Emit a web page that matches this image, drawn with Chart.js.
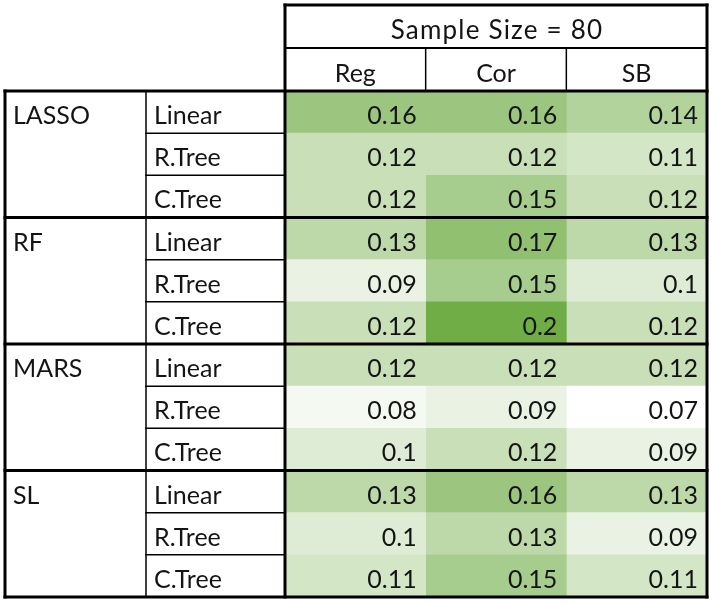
<!DOCTYPE html>
<html><head><meta charset="utf-8">
<script src="https://cdn.jsdelivr.net/npm/chart.js@4"></script>
<style>html,body{margin:0;padding:0;background:#fff}#wrap{width:713px;height:604px;position:relative}</style>
</head><body><div id="wrap"><canvas id="c"></canvas></div>
<script>
const title = 'Sample Size = 80';
const methods = ['LASSO', 'RF', 'MARS', 'SL'];
const models = ['Linear', 'R.Tree', 'C.Tree'];
const columns = ['Reg', 'Cor', 'SB'];
const reg = [0.16, 0.12, 0.12, 0.13, 0.09, 0.12, 0.12, 0.08, 0.1, 0.13, 0.1, 0.11];
const cor = [0.16, 0.12, 0.15, 0.17, 0.15, 0.2, 0.12, 0.09, 0.12, 0.16, 0.13, 0.15];
const sb  = [0.14, 0.11, 0.12, 0.13, 0.1, 0.12, 0.12, 0.07, 0.09, 0.13, 0.09, 0.11];

const series = [reg, cor, sb];
const rowLabels = [];
methods.forEach(m => models.forEach(md => rowLabels.push(m + ' ' + md)));

const allVals = series.flat();
const lo = Math.min(...allVals), hi = Math.max(...allVals);
const c0 = [255, 255, 255], c1 = [112, 173, 71];
function colorFor(v) {
  const t = (v - lo) / (hi - lo);
  const c = c0.map((a, i) => Math.round(a + (c1[i] - a) * t));
  return `rgb(${c[0]},${c[1]},${c[2]})`;
}

const FONT = '25px Lato';
const HFONT = '26px Lato';
const X0 = 5, X1 = 146, TOP = 5, MID = 48;

const tablePlugin = {
  id: 'tablePlugin',
  afterDatasetsDraw(chart) {
    const ctx = chart.ctx;
    const xs = chart.scales.x;
    const ca = chart.chartArea;
    const metas = series.map((_, i) => chart.getDatasetMeta(i));
    const els = metas[0].data;
    const rowTop = j => els[j].y - els[j].height / 2;
    const rowBot = j => els[j].y + els[j].height / 2;
    const colX = i => xs.getPixelForValue(i);
    const R = ca.right, L = ca.left, B = rowBot(els.length - 1), T = ca.top;

    ctx.save();
    ctx.fillStyle = '#141414';
    ctx.font = FONT;
    ctx.textBaseline = 'alphabetic';
    // values
    series.forEach((vals, i) => {
      ctx.textAlign = 'right';
      metas[i].data.forEach((el, j) => {
        ctx.fillText(String(vals[j]), el.x - 9, el.y + 12);
      });
    });
    // row labels
    ctx.textAlign = 'left';
    rowLabels.forEach((lab, j) => {
      const [m, md] = lab.split(' ');
      if (j % models.length === 0) ctx.fillText(m, X0 + 8, els[j].y + 12);
      ctx.fillText(md, X1 + 8, els[j].y + 12);
    });
    // header
    ctx.textAlign = 'center';
    ctx.font = HFONT;
    ctx.letterSpacing = '1.2px';
    ctx.fillText(title, (L + R) / 2 + 1, (TOP + MID) / 2 + 12);
    ctx.letterSpacing = '0px';
    ctx.font = FONT;
    columns.forEach((c, i) => {
      ctx.fillText(c, (colX(i) + colX(i + 1)) / 2, (MID + T) / 2 + 12);
    });

    // lines
    ctx.strokeStyle = '#000';
    ctx.lineCap = 'square';
    function line(x1, y1, x2, y2, w) {
      ctx.lineWidth = w;
      ctx.beginPath(); ctx.moveTo(x1, y1); ctx.lineTo(x2, y2); ctx.stroke();
    }
    // thin
    for (let j = 0; j < els.length; j++) {
      if (j % models.length !== 0) line(X1, rowTop(j), L, rowTop(j), 1.5);
    }
    line(X1, T, X1, B, 1.5);
    for (let i = 1; i < columns.length; i++) line(colX(i), MID, colX(i), T, 1.5);
    line(L, MID, R, MID, 2);
    // thick
    line(L, TOP, R, TOP, 3);
    line(L, TOP, L, B, 3);
    line(R, TOP, R, B, 3);
    line(X0, T, R, T, 3);
    line(X0, T, X0, B, 3);
    for (let j = models.length; j < els.length; j += models.length) line(X0, rowTop(j), R, rowTop(j), 3);
    line(X0, B, R, B, 3);
    ctx.restore();
  }
};

new Chart(document.getElementById('c'), {
  type: 'bar',
  data: {
    labels: rowLabels,
    datasets: series.map((vals, i) => ({
      label: columns[i],
      data: vals.map(() => [i, i + 1]),
      backgroundColor: vals.map(colorFor),
      borderWidth: 0,
      grouped: false,
      barPercentage: 1,
      categoryPercentage: 1
    }))
  },
  options: {
    indexAxis: 'y',
    responsive: true,
    maintainAspectRatio: false,
    animation: false,
    layout: { padding: { left: 285, top: 91, right: 6, bottom: 7 } },
    scales: {
      x: { type: 'linear', min: 0, max: columns.length, display: false },
      y: { display: false }
    },
    plugins: { legend: { display: false }, tooltip: { enabled: false } }
  },
  plugins: [tablePlugin]
});
</script>
</body></html>
